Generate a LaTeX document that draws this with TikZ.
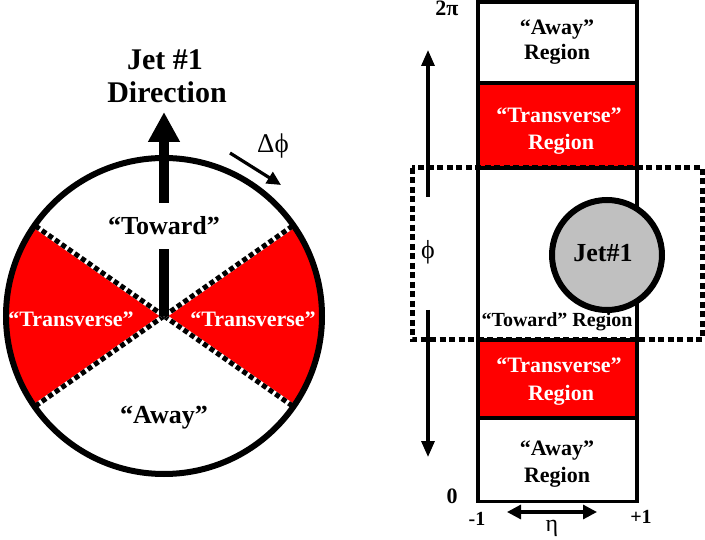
\documentclass[tikz,border=0pt]{standalone}
\usepackage{fontspec}
\setmainfont{Liberation Serif}
\usetikzlibrary{arrows.meta}
\definecolor{jetgray}{RGB}{192,192,192}
\definecolor{regred}{RGB}{255,0,0}
\begin{document}
\begin{tikzpicture}[x=1pt,y=-1pt,
  lbl/.style={font=\bfseries\fontsize{#1}{#1}\selectfont, inner sep=0pt, anchor=base},
  wlbl/.style={lbl=#1, text=white},
  plbl/.style={font=\fontsize{#1}{#1}\selectfont, inner sep=0pt, anchor=base},
  dotline/.style={line width=5, dash pattern=on 5 off 3},
  axarrow/.style={line width=3.2, -{Triangle[length=16pt,width=13pt]}},
  divline/.style={line width=4}]
\useasboundingbox (0,0) rectangle (705,540);
% ---------------- left: circle ----------------
\coordinate (C) at (164,316);
\fill[white] (C) circle[radius=158];
\fill[regred] (C) -- +(145:158) arc[start angle=145,end angle=215,radius=158] -- cycle;
\fill[regred] (C) -- +(-35:158) arc[start angle=-35,end angle=35,radius=158] -- cycle;
\foreach \a in {35,145,215,-35}{
  \draw[line width=5, white] (C) -- +(\a:156);
  \draw[dotline] (C) -- +(\a:156);
}
\draw[line width=6] (C) circle[radius=158];
% jet arrow
\coordinate (tip) at (164,112);
\draw[line width=10, -{Triangle[length=30pt,width=30pt]}] (C) -- (tip);
\node[lbl=26, fill=white, inner xsep=3pt, inner ysep=14pt] (toward) at (164,235) {“Toward”};
\node[lbl=30] (jet1) at (165,70) {Jet \#1};
\node[lbl=30] (dir) at (167,103) {Direction};
% delta phi
\node[plbl=27] (dphi) at (273,153) {Δϕ};
\coordinate (d1) at (230,153);
\coordinate (d2) at (281,185);
\draw[line width=3.2, -{Triangle[length=14pt,width=13pt]}] (d1) -- (d2);
\node[wlbl=22] (transL) at (71,327) {“Transverse”};
\node[wlbl=22] (transR) at (253,327) {“Transverse”};
\node[lbl=26] (awayL) at (164,424) {“Away”};
% ---------------- right: eta-phi column ----------------
\fill[regred] (478,83) rectangle (637,168);
\fill[regred] (478,340) rectangle (637,418);
\draw[line width=5, dash pattern=on 6 off 3.5] (412,168) rectangle (702,340);
\draw[line width=3.5] (478,2) rectangle (637,501.5);
\draw[divline] (478,83) -- (637,83);
\draw[divline] (478,168) -- (637,168);
\draw[divline] (478,340) -- (637,340);
\draw[divline] (478,418) -- (637,418);
\node[circle, draw, line width=6, fill=jetgray, minimum size=110pt, inner sep=0pt] (jet) at (607,255) {};
\node[lbl=26] (jetlbl) at (603,262) {Jet\#1};
\node[lbl=22] (away1a) at (557,35) {“Away”};
\node[lbl=22] (away1b) at (557,60) {Region};
\node[wlbl=22] (tr1a) at (559,123) {“Transverse”};
\node[wlbl=22] (tr1b) at (561,150) {Region};
\node[lbl=20] (towR) at (557,327) {“Toward” Region};
\node[wlbl=22] (tr2a) at (559,373) {“Transverse”};
\node[wlbl=22] (tr2b) at (561,400) {Region};
\node[lbl=22] (away2a) at (557,455) {“Away”};
\node[lbl=22] (away2b) at (557,482) {Region};
% axes
\node[lbl=22] (twopi) at (447,16) {2π};
\node[lbl=22] (zero) at (452,503) {0};
\node[lbl=20] (m1) at (477,525) {-1};
\node[lbl=20] (p1) at (641,523) {+1};
\node[plbl=24] (eta) at (552,531) {η};
\node[plbl=26] (phi) at (428,259) {ϕ};
\coordinate (pu1) at (428,197);
\coordinate (pu2) at (428,50);
\coordinate (pd1) at (428,310);
\coordinate (pd2) at (428,457);
\draw[axarrow] (pu1) -- (pu2);
\draw[axarrow] (pd1) -- (pd2);
\coordinate (e1) at (507,512);
\coordinate (e2) at (597,512);
\draw[line width=3.2, {Triangle[length=14pt,width=14pt]}-{Triangle[length=14pt,width=14pt]}] (e1) -- (e2);
\end{tikzpicture}
\end{document}
